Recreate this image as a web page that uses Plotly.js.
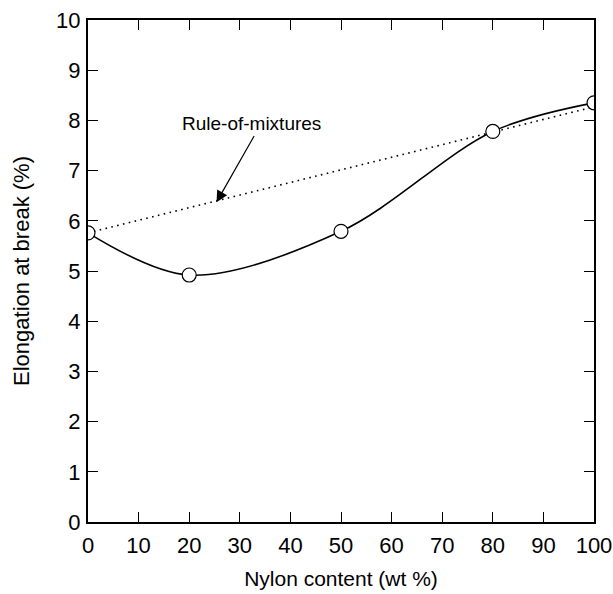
<!DOCTYPE html>
<html>
<head>
<meta charset="utf-8">
<script src="https://cdn.plot.ly/plotly-3.0.1.min.js"></script>
<style>
  html, body { margin: 0; padding: 0; background: #fff; }
  #chart { width: 613px; height: 594px; }
</style>
</head>
<body>
<div id="chart"></div>
<script>
// Measured elongation at break versus nylon content
const nylonContent = [0, 20, 50, 80, 100];
const elongation = [5.76, 4.92, 5.79, 7.78, 8.35];

// Rule-of-mixtures prediction (linear between the pure components)
const mixtureX = [0, 100];
const mixtureY = [5.76, 8.27];

// Annotation label and arrow (tail -> tip) in data units
const labelText = 'Rule-of-mixtures';
const labelPos = [32.4, 7.93];
const arrowTail = [33.0, 7.72];
const arrowTip = [25.4, 6.37];

const tickVals = [0, 10, 20, 30, 40, 50, 60, 70, 80, 90, 100];
const yTickVals = [0, 1, 2, 3, 4, 5, 6, 7, 8, 9, 10];

const font = { family: '"Liberation Sans", Arial, Helvetica, sans-serif', color: '#000' };

const traces = [
  {
    x: mixtureX, y: mixtureY, mode: 'lines', type: 'scatter',
    line: { color: '#000', width: 1.6, dash: '1.6px,4.4px' },
    hoverinfo: 'skip'
  },
  {
    x: nylonContent, y: elongation, mode: 'lines+markers', type: 'scatter',
    line: { color: '#000', width: 1.6, shape: 'spline', smoothing: 0.95 },
    marker: { symbol: 'circle', size: 14, color: '#fff', line: { color: '#000', width: 1.2 } }
  }
];

const axisCommon = {
  showgrid: false, zeroline: false,
  showline: true, linecolor: '#000', linewidth: 2, mirror: 'ticks',
  ticks: 'inside', ticklen: 10, tickwidth: 1, tickcolor: '#000',
  tickfont: Object.assign({ size: 22 }, font)
};

const layout = {
  width: 613, height: 594,
  margin: { l: 88, r: 19, t: 20, b: 72 },
  paper_bgcolor: '#fff', plot_bgcolor: '#fff',
  showlegend: false,
  font: font,
  xaxis: Object.assign({}, axisCommon, {
    range: [0, 100], tickvals: tickVals, ticklabelstandoff: 3,
    title: { text: 'Nylon content (wt %)', font: Object.assign({ size: 21 }, font), standoff: 14 }
  }),
  yaxis: Object.assign({}, axisCommon, {
    range: [0, 10], tickvals: yTickVals, ticklabelstandoff: 1,
    title: { text: 'Elongation at break (%)', font: Object.assign({ size: 22 }, font), standoff: 20 }
  }),
  annotations: [
    {
      x: labelPos[0], y: labelPos[1], xref: 'x', yref: 'y',
      text: labelText, showarrow: false,
      font: Object.assign({ size: 19 }, font)
    },
    {
      x: arrowTip[0], y: arrowTip[1], xref: 'x', yref: 'y',
      ax: arrowTail[0], ay: arrowTail[1], axref: 'x', ayref: 'y',
      text: '', showarrow: true, arrowhead: 2, arrowsize: 1.9, arrowwidth: 1.2, arrowcolor: '#000'
    }
  ]
};

Plotly.newPlot('chart', traces, layout, { displayModeBar: false, staticPlot: true });
</script>
</body>
</html>
